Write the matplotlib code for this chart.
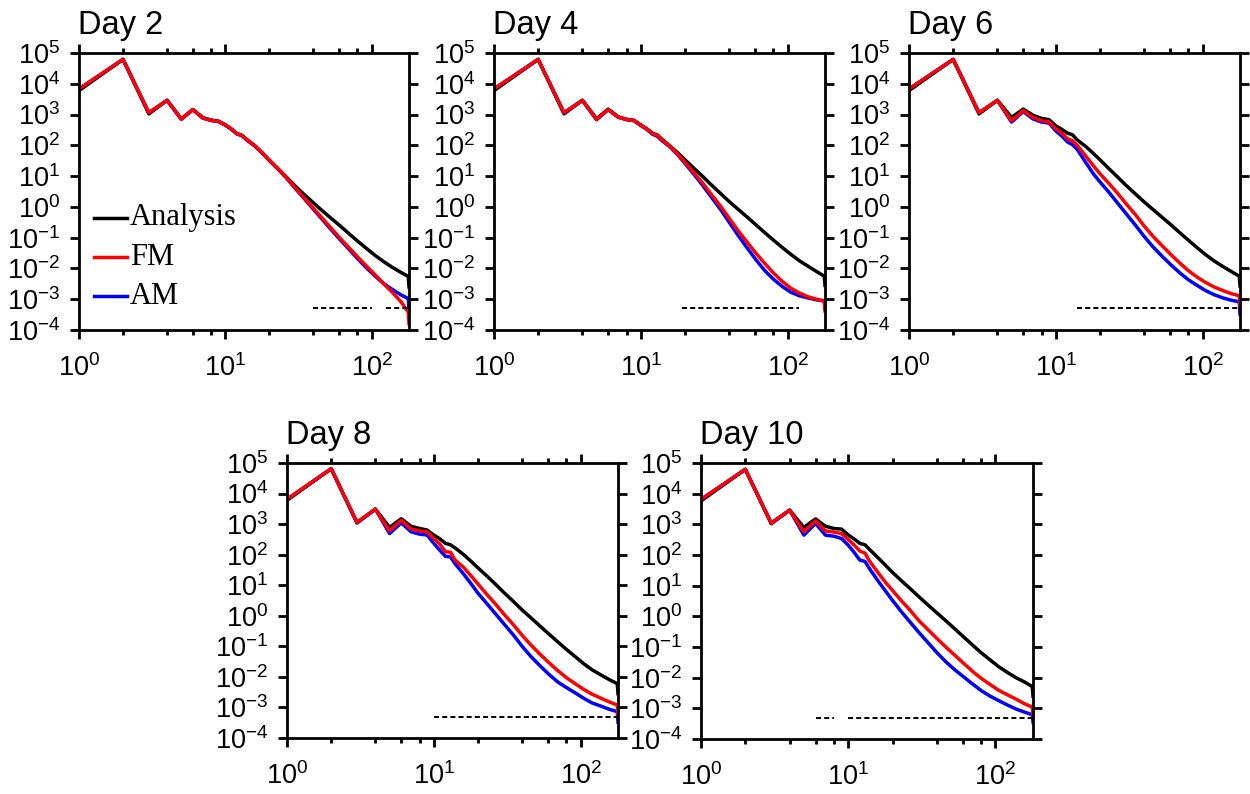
import matplotlib
matplotlib.use('Agg')
import matplotlib.pyplot as plt
from matplotlib.ticker import LogLocator, NullLocator, FuncFormatter, NullFormatter
import numpy as np

# wavenumbers at which the spectra were sampled
wavenumber = [1, 2, 3, 4, 5, 6, 7, 8, 9, 10, 11, 12, 13, 14, 16, 18, 20, 23, 26,
              30, 35, 40, 46, 53, 61, 70, 80, 92, 105, 120, 138, 158, 178, 180]

day2_analysis = [6.0e3, 6.2e4, 1.05e3, 2.9e3, 7.3e2, 1.45e3, 8.0e2, 6.6e2, 6.1e2, 4.6e2, 3.4e2, 2.4e2, 2.1e2, 1.55e2, 95, 55, 33, 17, 9.5,
                 4.8, 2.4, 1.35, 0.75, 0.42, 0.24, 0.135, 0.078, 0.045, 0.027, 0.017, 0.011, 0.0075, 0.0055, 0.0025]
day2_fm = [6.8e3, 6.2e4, 1.15e3, 2.9e3, 7.1e2, 1.45e3, 7.8e2, 6.5e2, 6.0e2, 4.6e2, 3.4e2, 2.4e2, 2.1e2, 1.55e2, 95, 55, 33, 17, 9.3,
           4.2, 1.85, 0.9, 0.43, 0.2, 0.095, 0.047, 0.024, 0.012, 0.0064, 0.0033, 0.0017, 8.5e-4, 3.8e-4, 1.6e-4]
day2_am = [6.8e3, 6.2e4, 1.15e3, 2.9e3, 7.0e2, 1.45e3, 7.7e2, 6.4e2, 5.9e2, 4.5e2, 3.3e2, 2.35e2, 2.05e2, 1.5e2, 93, 54, 32, 16.5, 9.0,
           4.0, 1.75, 0.83, 0.39, 0.18, 0.085, 0.042, 0.021, 0.0105, 0.0058, 0.0033, 0.0021, 0.0014, 1.05e-3, 4.5e-4]

day4_analysis = [6.0e3, 6.2e4, 1.05e3, 2.9e3, 7.3e2, 1.5e3, 8.5e2, 7.0e2, 6.5e2, 4.6e2, 3.45e2, 2.5e2, 2.15e2, 1.55e2, 90, 55, 34, 18, 10.5,
                 5.4, 2.7, 1.5, 0.84, 0.47, 0.26, 0.145, 0.084, 0.048, 0.029, 0.018, 0.0118, 0.0079, 0.0056, 0.0028]
day4_fm = [6.8e3, 6.2e4, 1.15e3, 2.9e3, 7.0e2, 1.45e3, 8.3e2, 6.9e2, 6.4e2, 4.5e2, 3.4e2, 2.4e2, 2.1e2, 1.5e2, 88, 50, 28, 13, 6.5,
           2.7, 1.05, 0.43, 0.17, 0.072, 0.031, 0.0145, 0.0072, 0.0038, 0.0023, 0.0016, 0.0012, 0.001, 8.5e-4, 4.2e-4]
day4_am = [6.8e3, 6.2e4, 1.15e3, 2.9e3, 6.8e2, 1.45e3, 8.2e2, 6.8e2, 6.3e2, 4.4e2, 3.3e2, 2.3e2, 1.95e2, 1.4e2, 85, 47, 26, 11.5, 5.5,
           2.2, 0.82, 0.32, 0.12, 0.047, 0.019, 0.0085, 0.0045, 0.0026, 0.0017, 0.0013, 0.0011, 9.5e-4, 9e-4, 5e-4]

day6_analysis = [6.0e3, 6.2e4, 1.05e3, 2.9e3, 8.1e2, 1.5e3, 9.5e2, 7.5e2, 6.8e2, 4.3e2, 3.3e2, 2.5e2, 2.2e2, 1.5e2, 92, 55, 34, 17.5, 10,
                 5.1, 2.6, 1.45, 0.82, 0.46, 0.26, 0.145, 0.083, 0.047, 0.028, 0.0175, 0.0115, 0.0078, 0.0056, 0.0027]
day6_fm = [6.8e3, 6.2e4, 1.15e3, 2.9e3, 6.3e2, 1.35e3, 8.1e2, 6.3e2, 5.8e2, 3.5e2, 2.5e2, 1.65e2, 1.4e2, 1.0e2, 45, 22, 12, 5.8, 3.0,
           1.3, 0.55, 0.24, 0.11, 0.055, 0.028, 0.015, 0.0085, 0.0052, 0.0035, 0.0025, 0.0019, 0.0015, 0.0013, 6e-4]
day6_am = [6.8e3, 6.2e4, 1.15e3, 2.9e3, 5.7e2, 1.25e3, 7.2e2, 5.7e2, 5.3e2, 2.95e2, 2.0e2, 1.3e2, 1.05e2, 74, 28, 12, 6.5, 3.0, 1.45,
           0.62, 0.25, 0.11, 0.05, 0.025, 0.013, 0.0072, 0.0043, 0.0028, 0.0019, 0.0014, 0.0011, 9.2e-4, 8.2e-4, 3.3e-4]

day8_analysis = [6.0e3, 6.5e4, 1.1e3, 3.1e3, 7.8e2, 1.5e3, 8.5e2, 7.2e2, 6.4e2, 4.4e2, 3.3e2, 2.35e2, 2.1e2, 1.65e2, 100, 60, 37, 20, 11.5,
                 5.8, 2.9, 1.55, 0.85, 0.46, 0.25, 0.14, 0.08, 0.046, 0.027, 0.017, 0.0115, 0.008, 0.006, 0.0028]
day8_fm = [6.5e3, 6.5e4, 1.15e3, 3.1e3, 6.0e2, 1.35e3, 7.0e2, 6.0e2, 5.6e2, 3.4e2, 2.2e2, 1.25e2, 1.2e2, 66, 38, 20, 11, 5.0, 2.6,
           1.15, 0.5, 0.23, 0.11, 0.055, 0.029, 0.016, 0.0095, 0.006, 0.0039, 0.0027, 0.002, 0.0015, 0.0012, 5.5e-4]
day8_am = [6.5e3, 6.5e4, 1.1e3, 3.1e3, 4.9e2, 1.1e3, 5.6e2, 4.7e2, 4.4e2, 2.35e2, 1.4e2, 88, 85, 50, 23, 11, 5.5, 2.5, 1.25,
           0.55, 0.23, 0.1, 0.046, 0.023, 0.012, 0.0068, 0.0045, 0.003, 0.002, 0.0014, 0.0011, 8.6e-4, 7.3e-4, 3.3e-4]

day10_analysis = [5.8e3, 6.2e4, 1.05e3, 2.9e3, 7.9e2, 1.5e3, 8.7e2, 7.3e2, 7.0e2, 4.5e2, 3.3e2, 2.4e2, 2.15e2, 1.5e2, 80, 45, 27, 14.5, 8.5,
                  4.5, 2.3, 1.3, 0.72, 0.39, 0.21, 0.115, 0.065, 0.038, 0.023, 0.015, 0.01, 0.0072, 0.0051, 0.0025]
day10_fm = [6.5e3, 6.2e4, 1.1e3, 2.9e3, 5.7e2, 1.3e3, 6.1e2, 5.6e2, 5.0e2, 3.2e2, 2.1e2, 1.35e2, 1.15e2, 62, 26, 12.5, 7.0, 3.2, 1.7,
            0.75, 0.36, 0.19, 0.1, 0.054, 0.029, 0.016, 0.0095, 0.006, 0.0039, 0.0028, 0.002, 0.0014, 0.0011, 6e-4]
day10_am = [6.5e3, 6.2e4, 1.1e3, 2.9e3, 4.45e2, 1.07e3, 4.45e2, 4.1e2, 3.45e2, 2.1e2, 1.2e2, 68, 62, 35, 14, 6.5, 3.3, 1.4, 0.7,
            0.31, 0.135, 0.066, 0.033, 0.018, 0.0105, 0.0062, 0.0038, 0.0025, 0.0018, 0.0013, 9.5e-4, 7.5e-4, 6.2e-4, 3.6e-4]

# wavenumber ranges marked by the dashed line
day2_marked = [[40, 100], [125, 180]]
day4_marked = [[19, 120]]
day6_marked = [[14, 180]]
day8_marked = [[10, 180]]
day10_marked = [[6, 8], [10, 180]]
marked_level = 5e-4

titles = ['Day 2', 'Day 4', 'Day 6', 'Day 8', 'Day 10']
analysis = [day2_analysis, day4_analysis, day6_analysis, day8_analysis, day10_analysis]
fm = [day2_fm, day4_fm, day6_fm, day8_fm, day10_fm]
am = [day2_am, day4_am, day6_am, day8_am, day10_am]
marked = [day2_marked, day4_marked, day6_marked, day8_marked, day10_marked]

plt.rcParams['font.family'] = ['Liberation Sans', 'DejaVu Sans']
plt.rcParams['mathtext.fontset'] = 'custom'
plt.rcParams['mathtext.rm'] = 'Liberation Sans'
plt.rcParams['mathtext.it'] = 'Liberation Sans'
plt.rcParams['mathtext.default'] = 'regular'

W, H = 1250, 794
fig = plt.figure(figsize=(W / 100, H / 100), dpi=100)

# panel boxes in pixels: left, top, right, bottom
boxes = [(79, 53, 409, 330), (494, 53, 825, 330), (909, 53, 1240, 330),
         (287, 463, 618, 738), (701, 463, 1033, 739)]


def power_label(v, pos):
    return r'$10^{%d}$' % int(round(np.log10(v)))


for i, (l, t, r, b) in enumerate(boxes):
    ax = fig.add_axes([l / W, 1 - b / H, (r - l) / W, (b - t) / H])
    ax.set_xscale('log')
    ax.set_yscale('log')

    ax.plot(wavenumber, analysis[i], color='black', lw=2.5)
    ax.plot(wavenumber, am[i], color='blue', lw=2.5)
    ax.plot(wavenumber, fm[i], color='red', lw=2.5)
    for seg in marked[i]:
        ax.plot(seg, [marked_level, marked_level], color='black', lw=1.4,
                dashes=(2.6, 1.6))

    ax.set_xlim(1, 180)
    ax.set_ylim(1e-4, 1e5)

    ax.xaxis.set_major_locator(LogLocator(base=10, subs=[1.0]))
    ax.xaxis.set_minor_locator(LogLocator(base=10, subs=[2, 4, 6, 8]))
    ax.xaxis.set_minor_formatter(NullFormatter())
    ax.xaxis.set_major_formatter(FuncFormatter(power_label))
    ax.yaxis.set_major_locator(LogLocator(base=10, subs=[1.0], numticks=20))
    ax.yaxis.set_minor_locator(NullLocator())
    ax.yaxis.set_major_formatter(FuncFormatter(power_label))

    for sp in ax.spines.values():
        sp.set_linewidth(2.0)
    ax.tick_params(which='both', direction='out', top=True, right=True,
                   labeltop=False, labelright=False, width=2.0)
    ax.tick_params(which='major', length=6.5, labelsize=19.5)
    ax.tick_params(which='minor', length=3.3)
    ax.tick_params(axis='x', which='major', pad=11)
    ax.tick_params(axis='y', which='major', pad=7)

    ax.annotate(titles[i], xy=(0, 1), xycoords='axes fraction',
                xytext=(-1, 14), textcoords='offset points',
                ha='left', va='baseline', fontsize=23.5)

    if i == 0:
        # legend drawn by hand inside the first panel
        names = ['Analysis', 'FM', 'AM']
        colors = ['black', 'red', 'blue']
        for j, (name, c) in enumerate(zip(names, colors)):
            y = 0.405 - j * 0.142
            ax.plot([0.045, 0.145], [y, y], color=c, lw=2.5,
                    transform=ax.transAxes)
            ax.text(0.155, y, name, transform=ax.transAxes, va='center',
                    ha='left', fontsize=22, family='Liberation Serif')

fig.savefig('out.png', dpi=100)
